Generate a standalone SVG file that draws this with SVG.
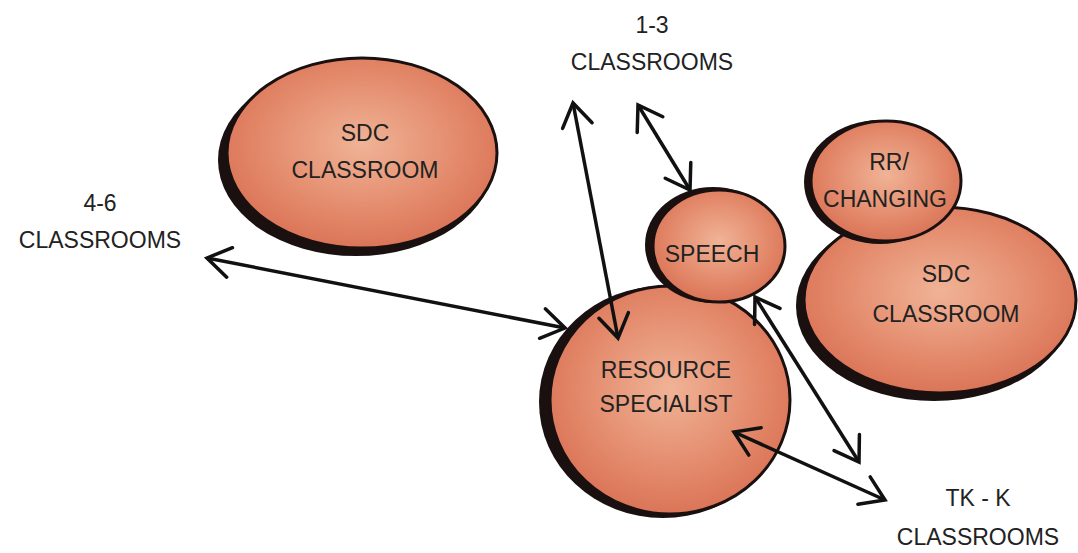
<svg xmlns="http://www.w3.org/2000/svg" width="1078" height="553" viewBox="0 0 1078 553">
<style>
.shadow{fill:#1a1010;}
.blob{fill:url(#g);stroke:#1a1010;stroke-width:3;}
.lbl{font-family:"Liberation Sans",Arial,sans-serif;font-size:23px;fill:#222;text-anchor:middle;}
.conn{fill:none;stroke:#111;stroke-width:3.5;marker-start:url(#ah);marker-end:url(#ah);}
</style>
<defs>
<radialGradient id="g" cx="0.5" cy="0.45" r="0.6">
<stop offset="0" stop-color="#f0b396"/>
<stop offset="0.6" stop-color="#e48a6c"/>
<stop offset="1" stop-color="#d86f52"/>
</radialGradient>
<marker id="ah" markerUnits="userSpaceOnUse" viewBox="-30 -20 40 40" refX="0" refY="0" markerWidth="40" markerHeight="40" orient="auto-start-reverse">
<path d="M-23,-15 L0,0 L-23,15" fill="none" stroke="#111" stroke-width="3.5" stroke-linecap="round" stroke-linejoin="miter"/>
</marker>
</defs>
<rect width="1078" height="553" fill="#fff"/>
<g id="sdc-left">
<ellipse class="shadow" cx="356" cy="160" rx="138" ry="96"/>
<ellipse class="blob" cx="362" cy="153" rx="135" ry="95"/>
<text class="lbl" x="365" y="141">SDC</text>
<text class="lbl" x="365" y="178">CLASSROOM</text>
</g>
<g id="sdc-right">
<ellipse class="shadow" cx="934" cy="306" rx="138" ry="95"/>
<ellipse class="blob" cx="940" cy="300" rx="136" ry="93"/>
<text class="lbl" x="946" y="282">SDC</text>
<text class="lbl" x="946" y="322">CLASSROOM</text>
</g>
<g id="rr-changing">
<ellipse class="shadow" cx="880" cy="182" rx="76" ry="62"/>
<ellipse class="blob" cx="886" cy="181" rx="75" ry="60"/>
<text class="lbl" x="889" y="170">RR/</text>
<text class="lbl" x="885" y="207">CHANGING</text>
</g>
<g id="resource-specialist">
<ellipse class="shadow" cx="663" cy="402" rx="124" ry="116"/>
<ellipse class="blob" cx="670" cy="400" rx="120" ry="114"/>
<text class="lbl" x="666" y="378">RESOURCE</text>
<text class="lbl" x="666" y="412">SPECIALIST</text>
</g>
<g id="speech">
<ellipse class="shadow" cx="713" cy="245" rx="68" ry="58"/>
<ellipse class="blob" cx="719" cy="246" rx="66" ry="56"/>
<text class="lbl" x="712" y="262">SPEECH</text>
</g>
<g id="labels">
<text class="lbl" x="652" y="33">1-3</text>
<text class="lbl" x="652" y="70">CLASSROOMS</text>
<text class="lbl" x="100" y="211">4-6</text>
<text class="lbl" x="100" y="248">CLASSROOMS</text>
<text class="lbl" x="978" y="506">TK - K</text>
<text class="lbl" x="978" y="545">CLASSROOMS</text>
</g>
<g id="connectors">
<line class="conn" x1="207" y1="258" x2="565" y2="328"/>
<line class="conn" x1="573" y1="103" x2="618" y2="338"/>
<line class="conn" x1="638" y1="105" x2="690" y2="190"/>
<line class="conn" x1="755" y1="297" x2="859" y2="462"/>
<line class="conn" x1="734" y1="432" x2="885" y2="500"/>
</g>
</svg>
